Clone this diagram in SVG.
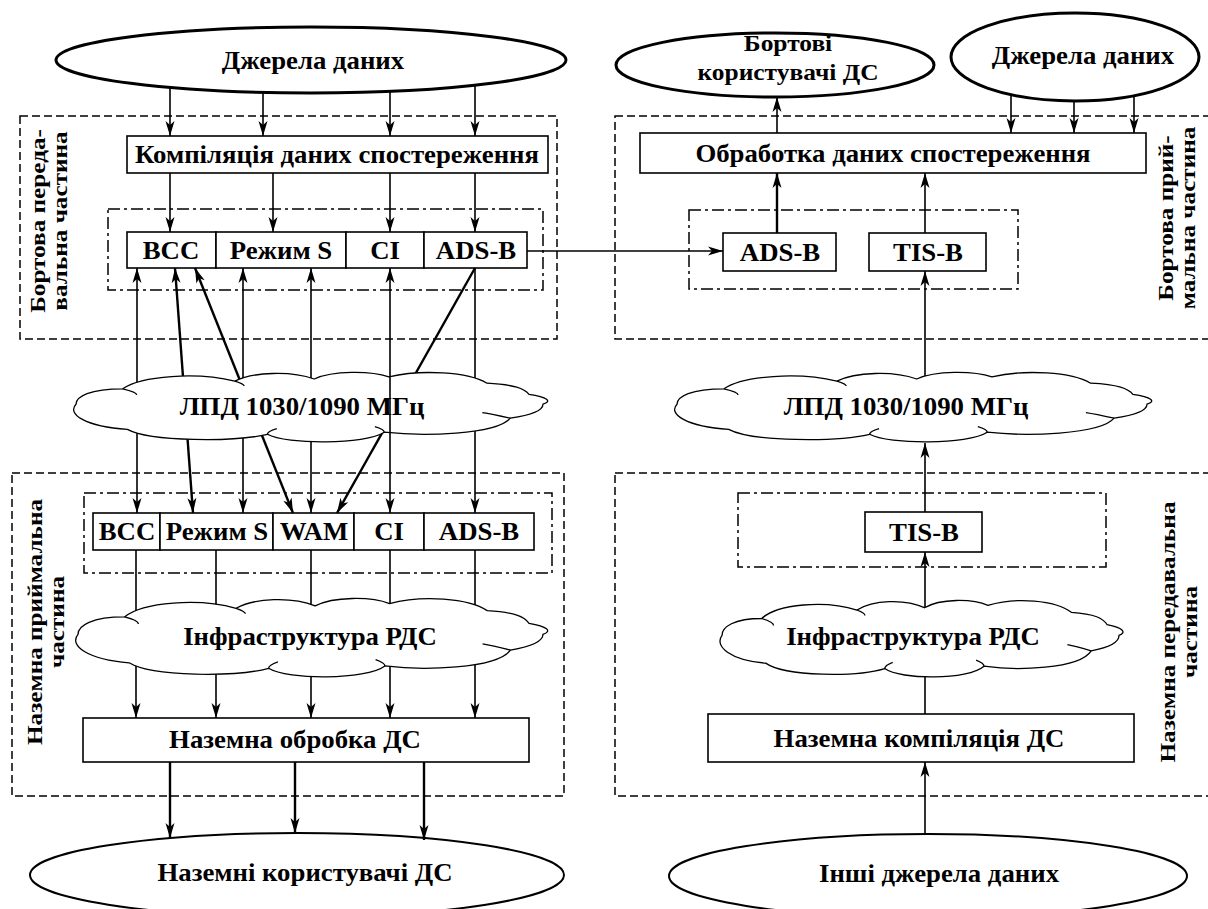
<svg xmlns="http://www.w3.org/2000/svg" xmlns:xlink="http://www.w3.org/1999/xlink" width="1208" height="909" viewBox="0 0 1208 909">
<style>
.box{fill:#fff;stroke:#000;stroke-width:1.6}
.ell{fill:#fff;stroke:#000;stroke-width:2}
.ell3{stroke-width:3}
.fd{fill:none;stroke:#000;stroke-width:1.5;stroke-dasharray:8 4}
.fdd{fill:none;stroke:#000;stroke-width:1.5;stroke-dasharray:12 4 3 4}
.t{font-family:"Liberation Serif","Times New Roman",serif;font-weight:bold;font-size:26px;fill:#000;text-anchor:middle}
.side{font-size:21px}
.sm{font-size:24px}
.c{fill:none;stroke:#000;stroke-width:1.6}
.k{stroke-width:2.4}
.e{marker-end:url(#ah)}
.s{marker-start:url(#ah)}
.m{mask:url(#cm)}
.cl{fill:#fff;stroke:#000;stroke-width:1.3}
.cli{fill:none;stroke:#000;stroke-width:1.3}
</style>
<defs>
<marker id="ah" markerUnits="userSpaceOnUse" viewBox="0 0 16 10" refX="15" refY="5" markerWidth="16" markerHeight="10" orient="auto-start-reverse">
<path d="M0,0.5 L15,5 L0,9.5 L4,5 Z" fill="#000"/>
</marker>
<path id="cp" vector-effect="non-scaling-stroke" d="M0,46 C0,35 3,24 10,24 C14,5 26,0 34,13 C38,0 46,-2 51,10 C55,-2 63,-2 67,7 C74,-4 84,0 88,16 C94,18 96,24 97,32 C101,36 102,42 100,46 C100,56 97,62 93,66 C90,90 74,92 66,86 C62,104 45,104 41,89 C34,100 16,100 11,82 C2,78 -2,60 0,46 Z"/>
<path id="ci" vector-effect="non-scaling-stroke" d="M10,24 C12,27 13,30 13,33 M34,13 C35,15 36,17 36,20 M93,66 C91,63 89,60 87,58 M66,86 C66,83 65,80 64,78 M41,89 C41,86 42,83 43,81"/>
<mask id="cm" maskUnits="userSpaceOnUse" x="0" y="0" width="1208" height="909">
<rect x="0" y="0" width="1208" height="909" fill="#fff"/>
<use xlink:href="#cp" href="#cp" fill="#000" transform="translate(76,372) scale(4.67,0.70)"/>
<use xlink:href="#cp" href="#cp" fill="#000" transform="translate(677,372) scale(4.70,0.70)"/>
<use xlink:href="#cp" href="#cp" fill="#000" transform="translate(78,598) scale(4.65,0.79)"/>
<use xlink:href="#cp" href="#cp" fill="#000" transform="translate(722,600) scale(3.97,0.77)"/>
</mask>
</defs>
<rect x="0" y="0" width="1208" height="909" fill="#fff"/>

<g id="frames">
<rect class="fd" x="20" y="116" width="537" height="223"/>
<rect class="fdd" x="108" y="209" width="435" height="81"/>
<rect class="fd" x="615" y="116" width="600" height="223"/>
<rect class="fdd" x="689" y="210" width="329" height="79"/>
<rect class="fd" x="12" y="473" width="552" height="323"/>
<rect class="fdd" x="84" y="493" width="468" height="80"/>
<rect class="fd" x="615" y="473" width="600" height="323"/>
<rect class="fdd" x="738" y="493" width="368" height="74"/>
<text class="t side" transform="translate(45,221) rotate(-90) scale(1.2,1)">Бортова переда-<tspan x="0" dy="22">вальна частина</tspan></text>
<text class="t side" transform="translate(1173,218) rotate(-90) scale(1.2,1)">Бортова прий-<tspan x="0" dy="22">мальна частина</tspan></text>
<text class="t side" transform="translate(42,622) rotate(-90) scale(1.2,1)">Наземна приймальна<tspan x="0" dy="22">частина</tspan></text>
<text class="t side" transform="translate(1175,632) rotate(-90) scale(1.2,1)">Наземна передавальна<tspan x="0" dy="22">частина</tspan></text>
</g>

<g id="n-sources-left">
<ellipse class="ell ell3" cx="311" cy="60" rx="255" ry="33"/>
<text class="t" transform="translate(313,69) scale(1.03,1)">Джерела даних</text>
</g>
<g id="n-compile">
<rect class="box" x="127" y="136" width="421" height="37"/>
<text class="t" transform="translate(337,163) scale(1.03,1)">Компіляція даних спостереження</text>
</g>
<g id="n-air-tx-row">
<rect class="box" x="127" y="232" width="89" height="36"/>
<rect class="box" x="216" y="232" width="130" height="36"/>
<rect class="box" x="346" y="232" width="78" height="36"/>
<rect class="box" x="424" y="232" width="103" height="36"/>
<text class="t" transform="translate(171,259) scale(1.03,1)">BCC</text>
<text class="t" transform="translate(281,259) scale(1.03,1)">Режим S</text>
<text class="t" transform="translate(385,259) scale(1.03,1)">CI</text>
<text class="t" transform="translate(476,259) scale(1.03,1)">ADS-B</text>
</g>
<g id="n-lpd-left">
<use xlink:href="#cp" href="#cp" class="cl" transform="translate(76,372) scale(4.67,0.70)"/>
<use xlink:href="#ci" href="#ci" class="cli" transform="translate(76,372) scale(4.67,0.70)"/>
<text class="t" transform="translate(302,415) scale(1.03,1)">ЛПД 1030/1090 МГц</text>
</g>
<g id="n-ground-rx-row">
<rect class="box" x="93" y="513" width="67" height="37"/>
<rect class="box" x="160" y="513" width="113" height="37"/>
<rect class="box" x="273" y="513" width="81" height="37"/>
<rect class="box" x="354" y="513" width="70" height="37"/>
<rect class="box" x="424" y="513" width="110" height="37"/>
<text class="t" transform="translate(127,540) scale(1.03,1)">BCC</text>
<text class="t" transform="translate(217,540) scale(1.03,1)">Режим S</text>
<text class="t" transform="translate(314,540) scale(1.03,1)">WAM</text>
<text class="t" transform="translate(389,540) scale(1.03,1)">CI</text>
<text class="t" transform="translate(479,540) scale(1.03,1)">ADS-B</text>
</g>
<g id="n-infra-left">
<use xlink:href="#cp" href="#cp" class="cl" transform="translate(78,598) scale(4.65,0.79)"/>
<use xlink:href="#ci" href="#ci" class="cli" transform="translate(78,598) scale(4.65,0.79)"/>
<text class="t" transform="translate(310,645) scale(1.03,1)">Інфраструктура РДС</text>
</g>
<g id="n-ground-proc">
<rect class="box" x="83" y="718" width="446" height="44"/>
<text class="t" transform="translate(295,748) scale(1.03,1)">Наземна обробка ДС</text>
</g>
<g id="n-ground-users">
<ellipse class="ell" cx="297" cy="875" rx="267" ry="42"/>
<text class="t" transform="translate(305,881) scale(1.03,1)">Наземні користувачі ДС</text>
</g>

<g id="n-air-users">
<ellipse class="ell ell3" cx="775" cy="65" rx="159" ry="32"/>
<text class="t sm" transform="translate(788,51) scale(1.06,1)">Бортові</text>
<text class="t sm" transform="translate(788,80) scale(1.06,1)">користувачі ДС</text>
</g>
<g id="n-sources-right">
<ellipse class="ell ell3" cx="1075" cy="57" rx="124" ry="44"/>
<text class="t" transform="translate(1083,64) scale(1.03,1)">Джерела даних</text>
</g>
<g id="n-processing">
<rect class="box" x="640" y="133" width="506" height="40"/>
<text class="t" transform="translate(893,162) scale(1.03,1)">Обработка даних спостереження</text>
</g>
<g id="n-air-rx-adsb">
<rect class="box" x="723" y="233" width="113" height="38"/>
<text class="t" transform="translate(780,261) scale(1.03,1)">ADS-B</text>
</g>
<g id="n-air-rx-tisb">
<rect class="box" x="869" y="233" width="117" height="38"/>
<text class="t" transform="translate(928,261) scale(1.03,1)">TIS-B</text>
</g>
<g id="n-lpd-right">
<use xlink:href="#cp" href="#cp" class="cl" transform="translate(677,372) scale(4.70,0.70)"/>
<use xlink:href="#ci" href="#ci" class="cli" transform="translate(677,372) scale(4.70,0.70)"/>
<text class="t" transform="translate(906,415) scale(1.03,1)">ЛПД 1030/1090 МГц</text>
</g>
<g id="n-ground-tx-tisb">
<rect class="box" x="865" y="512" width="117" height="40"/>
<text class="t" transform="translate(924,541) scale(1.03,1)">TIS-B</text>
</g>
<g id="n-infra-right">
<use xlink:href="#cp" href="#cp" class="cl" transform="translate(722,600) scale(3.97,0.77)"/>
<use xlink:href="#ci" href="#ci" class="cli" transform="translate(722,600) scale(3.97,0.77)"/>
<text class="t" transform="translate(913,645) scale(1.03,1)">Інфраструктура РДС</text>
</g>
<g id="n-ground-compile">
<rect class="box" x="708" y="714" width="426" height="48"/>
<text class="t" transform="translate(919,747) scale(1.03,1)">Наземна компіляція ДС</text>
</g>
<g id="n-other-sources">
<ellipse class="ell" cx="928" cy="876" rx="259" ry="42"/>
<text class="t" transform="translate(939,882) scale(1.03,1)">Інші джерела даних</text>
</g>

<g id="connectors">
<path class="c e" d="M170,87.5 V136"/>
<path class="c e" d="M263,92.4 V136"/>
<path class="c e" d="M390,91.4 V136"/>
<path class="c e" d="M475,85.3 V136"/>
<path class="c e" d="M170,173 V232"/>
<path class="c e" d="M273,173 V232"/>
<path class="c e" d="M390,173 V232"/>
<path class="c e" d="M475,173 V232"/>
<path class="c e" d="M527,251 H723"/>
<path class="c e s m" d="M137,268 V513"/>
<path class="c k e s m" d="M175,268 L193,513"/>
<path class="c k e s m" d="M195,268 L293,513"/>
<path class="c e s m" d="M243,268 V513"/>
<path class="c e s m" d="M311,268 V513"/>
<path class="c e s" d="M390,268 V513"/>
<path class="c k e m" d="M475,268 L337,513"/>
<path class="c e m" d="M475,268 V513"/>
<path class="c e m" d="M136,550 V718"/>
<path class="c e m" d="M216,550 V718"/>
<path class="c e m" d="M311,550 V718"/>
<path class="c e m" d="M390,550 V718"/>
<path class="c e m" d="M475,550 V718"/>
<path class="c k e" d="M170,762 V838"/>
<path class="c k e" d="M295,762 V833"/>
<path class="c k e" d="M424,762 V840"/>
<path class="c e" d="M777,133 V97"/>
<path class="c e" d="M1011,95 V133"/>
<path class="c e" d="M1074,101 V133"/>
<path class="c e" d="M1134,96 V133"/>
<path class="c k e" d="M777,233 V173"/>
<path class="c e" d="M925,233 V173"/>
<path class="c e m" d="M925,400 V271"/>
<path class="c e" d="M925,512 V443"/>
<path class="c e m" d="M925,620 V552"/>
<path class="c m" d="M925,714 V660"/>
<path class="c e" d="M925,834 V762"/>
</g>
</svg>
